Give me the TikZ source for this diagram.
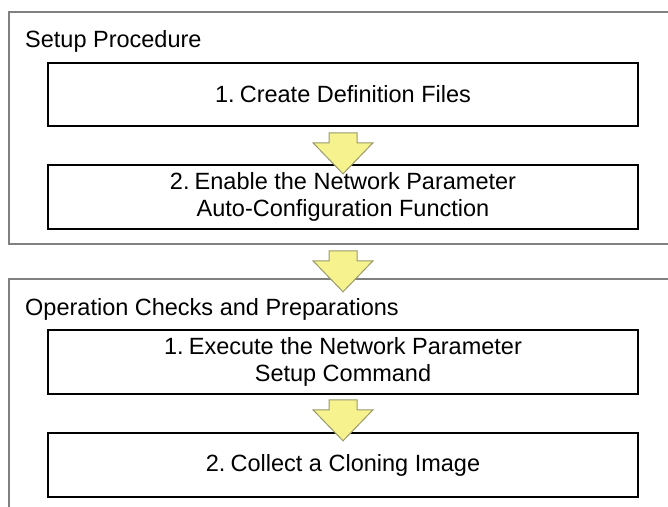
\documentclass[tikz,border=0pt]{standalone}
\usepackage{fontspec}
\setmainfont{Liberation Sans}
\definecolor{arrfill}{HTML}{F6F28E}
\definecolor{arrline}{HTML}{9A9A6A}
\definecolor{framegray}{HTML}{808080}
\begin{document}
\begin{tikzpicture}[x=1pt,y=-1pt,
  every node/.style={font=\fontsize{23.5}{27}\selectfont},
  stepbox/.style={draw=black,line width=1.6pt,fill=white,minimum width=590pt,minimum height=63pt,inner sep=0pt,align=center},
  frame/.style={draw=framegray,line width=1.6pt},
  grouplabel/.style={anchor=base west,inner sep=0pt},
  downarr/.pic={\draw[fill=arrfill,draw=arrline,line width=1pt,line join=miter]
     (-14,0) -- (14,0) -- (14,10) -- (30,10) -- (0,41) -- (-30,10) -- (-14,10) -- cycle;}
]
\useasboundingbox (0,0) rectangle (668,506);
\clip (0,0) rectangle (668,506);
% group frames
\draw[frame] (680,12) -- (9,12) -- (9,244) -- (680,244);
\draw[frame] (680,279) -- (9,279) -- (9,520);
\node[grouplabel] (g1) at (25,47) {Setup Procedure};
\node[grouplabel] (g2) at (25,315) {Operation Checks and Preparations};
% step boxes
\node[stepbox] (b1) at (343,94.5) {1.\hspace{0.22em}Create Definition Files};
\node[stepbox,minimum height=64pt] (b2) at (343,197) {2.\hspace{0.22em}Enable the Network Parameter\\Auto-Configuration Function};
\node[stepbox,minimum height=64pt] (b3) at (343,362) {1.\hspace{0.22em}Execute the Network Parameter\\Setup Command};
\node[stepbox,minimum height=64pt] (b4) at (343,465) {2.\hspace{0.22em}Collect a Cloning Image};
% arrows
\path (b1.south) ++(0,6) pic {downarr};
\path (b2.south) ++(0,21) pic {downarr};
\path (b3.south) ++(0,5) pic {downarr};
\end{tikzpicture}
\end{document}
